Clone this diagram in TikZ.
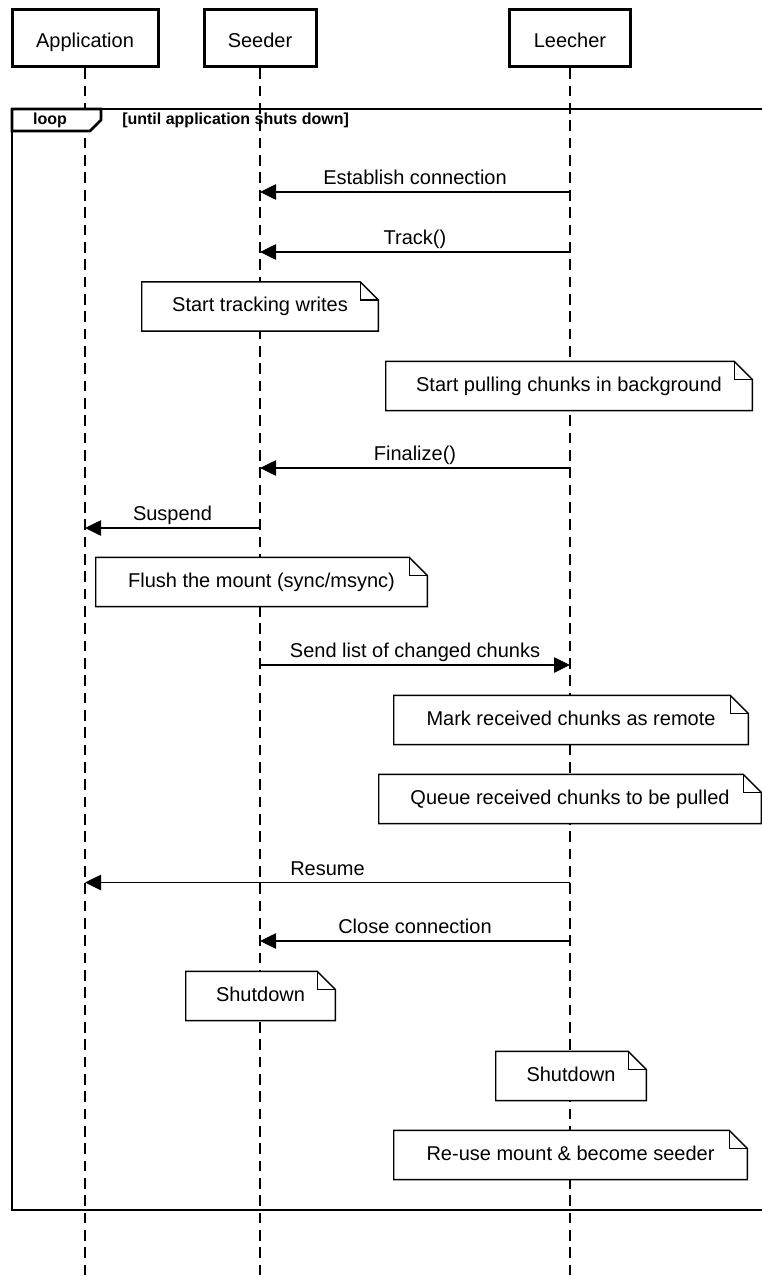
\documentclass[tikz,border=0pt]{standalone}
\usepackage{fontspec}
\setmainfont{Liberation Sans}
\usetikzlibrary{arrows.meta}

% outline of a note with a folded top-right corner
\newcommand{\foldnote}[1]{%
  \draw[noteline] (#1.south west) -- (#1.north west) -- ([shift={(-18,0)}]#1.north east)
    -- ([shift={(0,18)}]#1.north east) -- (#1.south east) -- cycle;
  \draw[noteline] ([shift={(-18,0)}]#1.north east) -- ([shift={(-18,18)}]#1.north east)
    -- ([shift={(0,18)}]#1.north east);}

\tikzset{
  mainfont/.style={font=\fontsize{15pt}{18pt}\selectfont, text height=11pt, text depth=3.2pt},
  actor/.style={draw, line width=2.25pt, fill=white, inner sep=0pt,
    font=\fontsize{15pt}{18pt}\selectfont, text height=15pt, text depth=2.2pt},
  lifeline/.style={line width=1.1pt, dash pattern=on 8pt off 5pt},
  msg/.style={line width=1.1pt, -{Triangle[length=12pt,width=11.5pt]}},
  msglabel/.style={midway, anchor=base, yshift=5.5pt, inner sep=0pt,
    font=\fontsize{15pt}{18pt}\selectfont},
  note/.style={fill=white, inner sep=0pt, minimum height=36.5pt, mainfont},
  noteline/.style={line width=1.1pt, line join=miter},
  frameline/.style={line width=2.1pt, line join=miter},
  framelabel/.style={inner sep=0pt, font=\bfseries\fontsize{12pt}{14pt}\selectfont},
}

\begin{document}
\begin{tikzpicture}[x=0.75pt, y=-0.75pt]
  \clip (0,0) rectangle (762,1277);
  \fill[white] (0,0) rectangle (762,1277);

  % participants
  \node[actor, minimum width=109.5pt, minimum height=42.75pt] (app)   at (85,38.5)  {Application};
  \node[actor, minimum width=84pt,    minimum height=42.75pt] (seed)  at (260,38.5) {Seeder};
  \node[actor, minimum width=90.75pt, minimum height=42.75pt] (leech) at (570,38.5) {Leecher};

  \coordinate (bottom) at (0,1277);
  \draw[lifeline] (app.south)   -- (app.south |- bottom);
  \draw[lifeline] (seed.south)  -- (seed.south |- bottom);
  \draw[lifeline] (leech.south) -- (leech.south |- bottom);

  % loop fragment with its tag
  \draw[frameline] (12,109) rectangle (790,1210);
  \filldraw[frameline, fill=white] (12,109) -- (101,109) -- (101,120) -- (90,131) -- (12,131) -- cycle;
  \node[framelabel] (looptag) at (50,120.5) {loop};
  \node[framelabel, anchor=west] (guard) at (122,120.5) {[until application shuts down]};

  % message rows
  \coordinate (r1) at (0,192);
  \coordinate (r2) at (0,252);
  \coordinate (r3) at (0,468);
  \coordinate (r4) at (0,528);
  \coordinate (r5) at (0,665);
  \coordinate (r6) at (0,882.5);
  \coordinate (r7) at (0,941);

  \draw[msg] (leech |- r1) -- node[msglabel] {Establish connection} (seed |- r1);
  \draw[msg] (leech |- r2) -- node[msglabel] {Track()} (seed |- r2);

  \node[note, minimum width=177pt] (n1) at (260,306.5) {Start tracking writes};
  \foldnote{n1}
  \node[note, minimum width=274.5pt] (n2) at (569,386) {Start pulling chunks in background};
  \foldnote{n2}

  \draw[msg] (leech |- r3) -- node[msglabel] {Finalize()} (seed |- r3);
  \draw[msg] (seed |- r4) -- node[msglabel] {Suspend} (app |- r4);

  \node[note, minimum width=248.25pt] (n3) at (261.5,582) {Flush the mount (sync/msync)};
  \foldnote{n3}

  \draw[msg] (seed |- r5) -- node[msglabel] {Send list of changed chunks} (leech |- r5);

  \node[note, minimum width=265.5pt] (n4) at (571,720) {Mark received chunks as remote};
  \foldnote{n4}
  \node[note, minimum width=286.5pt] (n5) at (570,799) {Queue received chunks to be pulled};
  \foldnote{n5}

  \draw[msg] (leech |- r6) -- node[msglabel] {Resume} (app |- r6);
  \draw[msg] (leech |- r7) -- node[msglabel] {Close connection} (seed |- r7);

  \node[note, minimum width=111.75pt] (n6) at (260.5,996) {Shutdown};
  \foldnote{n6}
  \node[note, minimum width=112.5pt] (n7) at (571,1076) {Shutdown};
  \foldnote{n7}
  \node[note, minimum width=264.75pt] (n8) at (570.5,1155) {Re-use mount \& become seeder};
  \foldnote{n8}
\end{tikzpicture}
\end{document}
